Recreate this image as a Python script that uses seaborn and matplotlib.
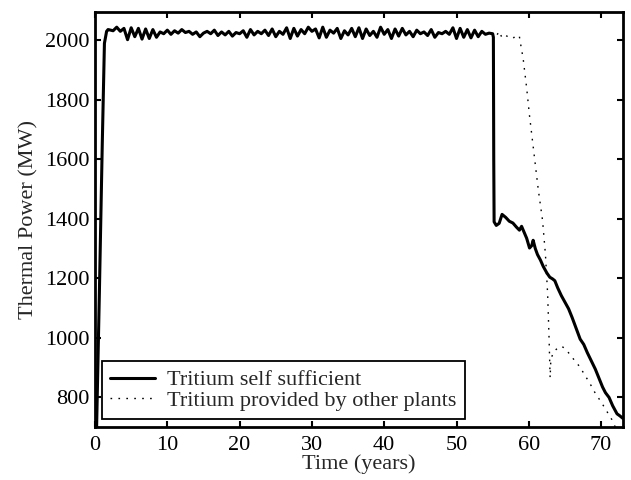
import matplotlib
matplotlib.use("Agg")
import matplotlib.pyplot as plt
import numpy as np
import pandas as pd
import seaborn as sns

# start-up ramp (years, MW)
ramp_time = [0.15, 0.6, 1.0, 1.3, 1.6, 1.8]
ramp_power = [620, 1150, 1650, 1990, 2030, 2036]

# plateau, sampled every half year from 2.0 to 54.5
plateau_time = list(np.arange(2.0, 55.0, 0.5))
plateau_power = [
    2035, 2032, 2044, 2030, 2040, 2002, 2042, 2012, 2040, 2004,
    2038, 2006, 2036, 2010, 2028, 2022, 2034, 2020, 2032, 2024,
    2036, 2026, 2030, 2020, 2028, 2012, 2024, 2030, 2022, 2034,
    2016, 2028, 2018, 2030, 2014, 2026, 2022, 2032, 2010, 2036,
    2018, 2030, 2022, 2034, 2016, 2038, 2012, 2030, 2020, 2042,
    2006, 2040, 2014, 2036, 2022, 2044, 2030, 2038, 2008, 2044,
    2010, 2034, 2024, 2040, 2006, 2032, 2018, 2040, 2012, 2042,
    2006, 2038, 2016, 2030, 2010, 2044, 2020, 2036, 2006, 2038,
    2014, 2040, 2018, 2030, 2012, 2034, 2022, 2028, 2016, 2036,
    2010, 2026, 2022, 2030, 2020, 2042, 2006, 2040, 2010, 2036,
    2008, 2034, 2012, 2030, 2020, 2024,
]

# self sufficient: sudden loss at ~55 years then decline
self_time = [55.0, 55.1, 55.15, 55.2, 55.5, 55.9, 56.3, 56.8, 57.3, 57.8,
             58.3, 58.7, 59.0, 59.3, 59.7, 60.1, 60.4, 60.6, 60.9, 61.2,
             61.6, 62.0, 62.5, 62.9, 63.3, 63.6, 64.0, 64.5, 65.0, 65.5,
             66.0, 66.5, 67.1, 67.6, 68.1, 68.6, 69.2, 69.7, 70.2, 70.6,
             71.1, 71.6, 72.2, 72.6, 73.0]
self_power = [2022, 2010, 1600, 1390, 1378, 1385, 1415, 1405, 1392, 1386,
              1372, 1362, 1375, 1358, 1335, 1302, 1310, 1328, 1300, 1280,
              1262, 1240, 1218, 1204, 1198, 1192, 1168, 1142, 1120, 1098,
              1068, 1035, 996, 978, 950, 925, 895, 865, 835, 816,
              800, 772, 745, 738, 730]

# tritium from other plants
other_time = [55.0, 55.4, 55.9, 56.3, 56.8, 57.3, 57.8, 58.3, 58.7, 59.0,
              59.2, 59.7, 60.1, 60.8, 61.3, 61.9, 62.3, 62.6, 62.8, 62.95,
              63.05, 63.5, 64.0, 64.5, 65.0, 65.5, 66.0, 66.5, 67.0, 67.5,
              68.0, 68.5, 69.0, 69.5, 70.0, 70.5, 71.0, 71.5, 72.0, 72.5]
other_power = [2022, 2010, 2030, 2008, 2016, 2010, 2006, 2018, 2012, 1968,
               1942, 1840, 1746, 1601, 1500, 1395, 1280, 1150, 1000, 866,
               930, 955, 966, 972, 965, 950, 935, 918, 905, 885,
               865, 845, 822, 803, 785, 765, 745, 725, 698, 680]

labels = ["Tritium self sufficient", "Tritium provided by other plants"]

df_self = pd.DataFrame({"time": ramp_time + plateau_time + self_time,
                        "power": ramp_power + plateau_power + self_power})
df_other = pd.DataFrame({"time": ramp_time + plateau_time + other_time,
                         "power": ramp_power + plateau_power + other_power})

sns.set_style("ticks")
plt.rcParams["font.family"] = ["Liberation Serif", "DejaVu Serif"]
plt.rcParams["font.size"] = 16

fig = plt.figure(figsize=(6.31, 4.8), dpi=100)
ax = fig.add_axes([0.1506, 0.110, 0.8364, 0.865])

sns.lineplot(data=df_self, x="time", y="power", ax=ax, color="black",
             linewidth=2.2, estimator=None, sort=False, label=labels[0])
sns.lineplot(data=df_other, x="time", y="power", ax=ax, color="black",
             linewidth=1.0, estimator=None, sort=False, label=labels[1],
             dashes=False)
ax.lines[1].set_dashes((1.2, 4.5))
ax.lines[0].set_zorder(3)

ax.set_xlim(0, 73)
ax.set_ylim(700, 2095)
ax.set_xticks(range(0, 80, 10))
ax.set_yticks(range(800, 2200, 200))
ax.set_xlabel("Time (years)", fontsize=16, labelpad=0)
ax.set_ylabel("Thermal Power (MW)", fontsize=16, labelpad=5)
ax.tick_params(direction="in", length=4, width=1.5, top=True, right=True,
               labelsize=16, pad=4, colors="black")
ax.tick_params(axis="x", pad=6)
for sp in ax.spines.values():
    sp.set_visible(True)
    sp.set_linewidth(2.0)
    sp.set_color("black")

leg = ax.legend(loc="lower left", bbox_to_anchor=(0.013, 0.019),
                borderaxespad=0, fancybox=False, framealpha=1,
                edgecolor="black", fontsize=16, handlelength=2.0,
                handletextpad=0.55, labelspacing=0.0, borderpad=0.38)
leg.get_frame().set_linewidth(1.3)
leg.legend_handles[1].set_dashes((1.2, 4.5))

fig.savefig("out.png", dpi=100)
